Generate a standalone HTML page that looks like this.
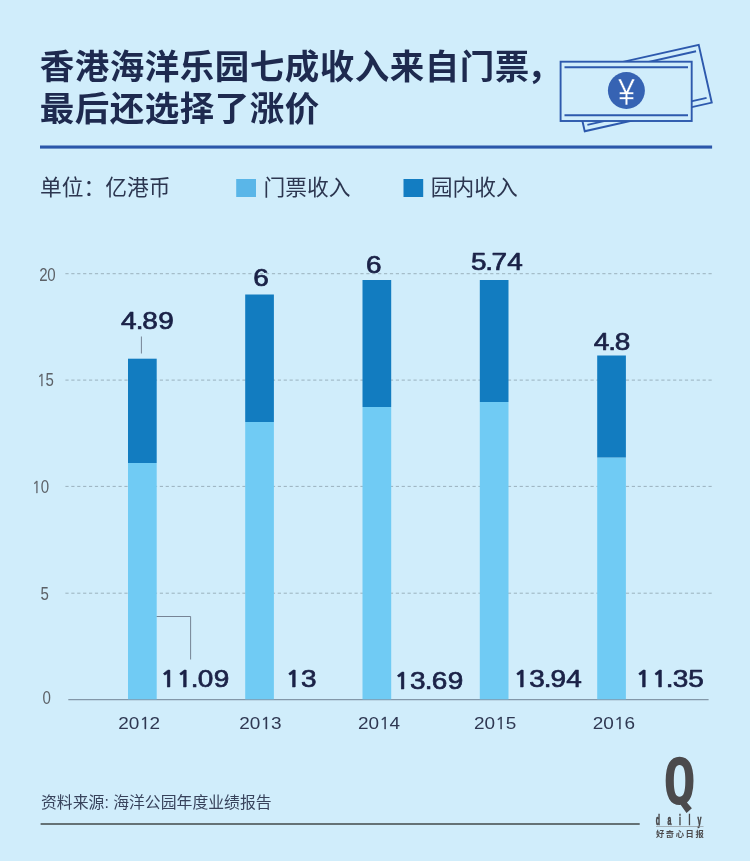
<!DOCTYPE html>
<html lang="zh-CN">
<head>
<meta charset="utf-8">
<title>香港海洋乐园七成收入来自门票</title>
<style>
html,body{margin:0;padding:0;background:#d0edfb;}
body{width:750px;height:861px;overflow:hidden;position:relative;}
svg{position:absolute;left:0;top:0;display:block;}
.cjk{font-family:"Liberation Sans","Noto Sans CJK SC",sans-serif;}
.title{font-weight:700;font-size:34.5px;fill:#1e2a4f;letter-spacing:0.5px;}
.legend{font-size:21.75px;fill:#2c3650;font-weight:400;}
.val{font-family:"Liberation Sans",sans-serif;font-size:24.3px;fill:#1b2247;stroke:#1b2247;stroke-width:0.7px;stroke-linejoin:round;}
.v1{font-family:"NanumGothic","Liberation Sans",sans-serif;font-weight:700;font-size:22.3px;stroke-width:0.45px;}
.yax{font-family:"Liberation Sans",sans-serif;font-size:17.5px;fill:#5c6167;}
.a1{font-family:"NanumGothic","Liberation Sans",sans-serif;font-size:16.1px;stroke:#5c6167;stroke-width:0.3px;}
.year{font-family:"Liberation Sans",sans-serif;font-size:17.4px;fill:#2f3852;}
.y1{font-family:"NanumGothic","Liberation Sans",sans-serif;font-size:16.2px;stroke:#2f3852;stroke-width:0.3px;}
.src{font-size:15.85px;fill:#38435c;font-weight:400;}
</style>
</head>
<body>
<svg width="750" height="861" viewBox="0 0 750 861">
<rect width="750" height="861" fill="#d0edfb"/>

<!-- title -->
<text class="cjk title" x="39.8" y="79">香港海洋乐园七成收入来自门票<tspan dx="-2.7">，</tspan></text>
<text class="cjk title" x="39.8" y="121.3">最后还选择了涨价</text>

<!-- banknote icon -->
<g fill="#d0edfb" stroke="#2d59ad" stroke-width="1.9">
  <g transform="translate(571.7 73.4) rotate(-12.7)">
    <rect x="0" y="0" width="130.2" height="59.3"/>
    <line x1="4" y1="5.7" x2="126.2" y2="5.7"/>
    <line x1="4" y1="53.6" x2="126.2" y2="53.6"/>
  </g>
  <rect x="560.6" y="61.7" width="131.1" height="59.3"/>
  <line x1="564.5" y1="67.3" x2="688" y2="67.3"/>
  <line x1="564.5" y1="115.3" x2="688" y2="115.3"/>
</g>
<circle cx="626.4" cy="90.5" r="18.5" fill="#3663b3"/>
<text transform="translate(626.5 105.1) scale(0.83 1)" text-anchor="middle" font-family="'Liberation Sans','Noto Sans CJK SC',sans-serif" font-size="36.8" fill="#ffffff" stroke="#3663b3" stroke-width="0.5">¥</text>

<!-- divider -->
<rect x="40" y="145.5" width="672.1" height="3.1" fill="#2b57aa"/>

<!-- legend -->
<text class="cjk legend" x="40" y="195.3">单位：亿港币</text>
<rect x="236.2" y="179" width="19.8" height="18" fill="#5ab6e8"/>
<text class="cjk legend" x="263.6" y="194.9">门票收入</text>
<rect x="403.5" y="179" width="19.7" height="18" fill="#137dc2"/>
<text class="cjk legend" x="430.7" y="194.9">园内收入</text>

<!-- grid -->
<g stroke="#8498a3" stroke-width="0.7" stroke-dasharray="3.2 2.7">
  <line x1="65.4" y1="273.7" x2="712" y2="273.7"/>
  <line x1="65.4" y1="380.1" x2="712" y2="380.1"/>
  <line x1="65.4" y1="486.4" x2="712" y2="486.4"/>
  <line x1="65.4" y1="593.2" x2="712" y2="593.2"/>
</g>
<line x1="68.3" y1="699.6" x2="708.6" y2="699.6" stroke="#8397a8" stroke-width="1.1"/>

<!-- y axis labels -->
<text class="yax" transform="scale(0.86 1)" x="45.54 55.02" y="280.6">20</text>
<text class="yax" transform="scale(0.86 1)" x="43.33 53.00" y="385.6"><tspan class="a1">1</tspan>5</text>
<text class="yax" transform="scale(0.86 1)" x="37.40 47.34" y="492.6"><tspan class="a1">1</tspan>0</text>
<text class="yax" transform="scale(0.86 1)" x="47.24" y="600.5">5</text>
<text class="yax" transform="scale(0.86 1)" x="49.44" y="703.6">0</text>

<!-- bars -->
<g fill="#70cbf4">
  <rect x="128" y="463" width="28.7" height="236.3"/>
  <rect x="245.2" y="422" width="28.7" height="277.3"/>
  <rect x="362.5" y="407" width="28.7" height="292.3"/>
  <rect x="479.8" y="402" width="28.7" height="297.3"/>
  <rect x="597.2" y="457.5" width="28.7" height="241.8"/>
</g>
<g fill="#127cc0">
  <rect x="128" y="358.7" width="28.7" height="104.3"/>
  <rect x="245.2" y="294.5" width="28.7" height="127.5"/>
  <rect x="362.5" y="280" width="28.7" height="127"/>
  <rect x="479.8" y="280" width="28.7" height="122"/>
  <rect x="597.2" y="355.5" width="28.7" height="102"/>
</g>

<!-- leader lines -->
<g stroke="#667082" stroke-width="0.85" fill="none">
  <line x1="141.4" y1="336.5" x2="141.4" y2="353.5"/>
  <polyline points="156.7,616.5 190.6,616.5 190.6,659.5"/>
</g>

<!-- value labels -->
<text class="val" transform="scale(1.15 1)" x="105.15 118.10 123.68 137.60" y="328.7">4.89</text>
<text class="val" transform="scale(1.15 1)" x="220.20" y="286.2">6</text>
<text class="val" transform="scale(1.15 1)" x="318.25" y="273.4">6</text>
<text class="val" transform="scale(1.15 1)" x="409.48 422.06 427.32 441.02" y="270.0">5.74</text>
<text class="val" transform="scale(1.15 1)" x="516.23 528.97 534.59" y="350.4">4.8</text>
<text class="val" transform="scale(1.15 1)" x="139.43 153.39 165.93 171.85 185.94" y="687.4"><tspan class="v1">11</tspan>.09</text>
<text class="val" transform="scale(1.15 1)" x="248.35 261.84" y="687.4"><tspan class="v1">1</tspan>3</text>
<text class="val" transform="scale(1.15 1)" x="342.91 356.49 369.41 375.46 389.42" y="688.8"><tspan class="v1">1</tspan>3.69</text>
<text class="val" transform="scale(1.15 1)" x="446.61 460.14 472.89 478.73 492.36" y="687.4"><tspan class="v1">1</tspan>3.94</text>
<text class="val" transform="scale(1.15 1)" x="552.69 566.65 578.97 584.97 598.40" y="687.4"><tspan class="v1">11</tspan>.35</text>

<!-- year labels -->
<text class="year" transform="scale(1.09 1)" x="108.46 118.10 127.93 137.18" y="728.6">20<tspan class="y1">1</tspan>2</text>
<text class="year" transform="scale(1.09 1)" x="219.47 229.11 238.93 248.74" y="728.6">20<tspan class="y1">1</tspan>3</text>
<text class="year" transform="scale(1.09 1)" x="328.37 338.01 347.83 357.33" y="728.6">20<tspan class="y1">1</tspan>4</text>
<text class="year" transform="scale(1.09 1)" x="434.79 444.43 454.26 464.08" y="728.6">20<tspan class="y1">1</tspan>5</text>
<text class="year" transform="scale(1.09 1)" x="543.79 553.42 563.25 572.99" y="728.6">20<tspan class="y1">1</tspan>6</text>

<!-- footer -->
<text class="cjk src" x="41" y="808.2">资料来源: 海洋公园年度业绩报告</text>
<rect x="40.6" y="823.1" width="599.1" height="1.8" fill="#596467"/>

<!-- logo -->
<text transform="translate(663.2 804) scale(0.85 1)" font-family="'DejaVu Sans Mono','Liberation Mono',monospace" font-weight="700" font-size="63.8" fill="#4b4a4c">Q</text>
<text transform="translate(655.8 825) scale(0.5 1)" x="0 23.2 46.4 65.6 83.4" font-family="'Liberation Sans',sans-serif" font-weight="700" font-size="14" fill="#454446" stroke="#454446" stroke-width="0.6">daily</text>
<rect x="656" y="826" width="47.5" height="0.6" fill="#85898e"/>
<text class="cjk" x="656" y="836.6" textLength="47.8" lengthAdjust="spacing" font-size="8.3" font-weight="700" fill="#4b4a4c">好奇心日报</text>
</svg>
</body>
</html>
